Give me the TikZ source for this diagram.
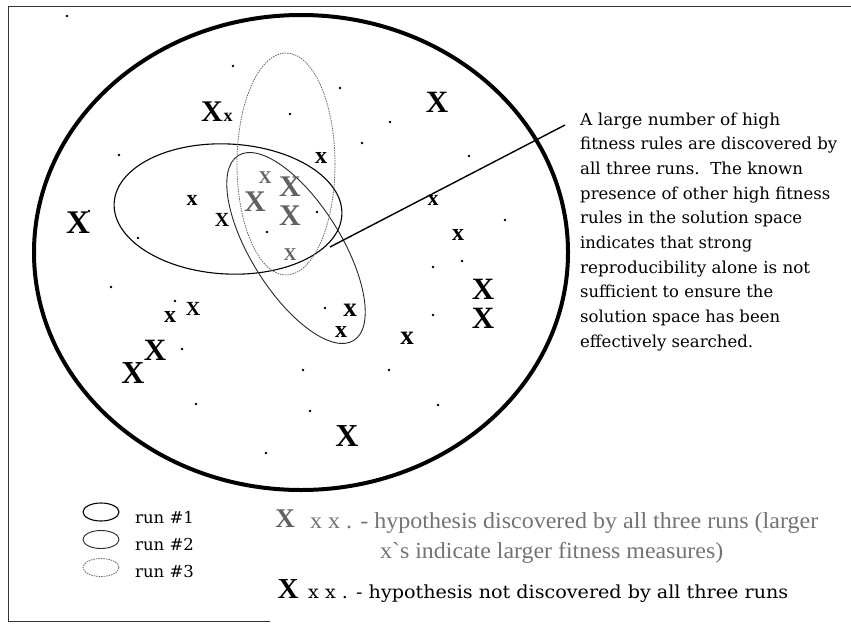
\documentclass[tikz,border=0pt]{standalone}
\usepackage{fontspec}
\usepackage{graphicx}
\setmainfont{DejaVu Serif}
\newfontfamily\timesf{Liberation Serif}
\begin{document}
\begin{tikzpicture}[x=1pt,y=-1pt,
  dot/.style={circle,fill=black,inner sep=0pt,minimum size=2.6pt},
  mk/.style={inner sep=0pt,font=\timesf\bfseries\fontsize{#1}{#1}\selectfont},
  gx/.style={mk=#1,text=black!62},
  cl/.style={inner sep=0pt,anchor=base west,font=\fontsize{16.5}{20}\selectfont},
  lg/.style={inner sep=0pt,anchor=base west,font=\fontsize{16.5}{20}\selectfont},
  lgray/.style={inner sep=0pt,anchor=base west,text=black!55,font=\timesf\fontsize{23}{26}\selectfont},
  lblack/.style={inner sep=0pt,anchor=base west,font=\fontsize{18}{22}\selectfont},
  runA/.style={line width=1.1pt,black},
  runB/.style={line width=0.9pt,black!85},
  runC/.style={line width=0.8pt,black!60,dash pattern=on 1.5pt off 1pt},
  frame/.style={line width=1pt,black!80}
]
\useasboundingbox (0,0) rectangle (851,624);
% frame
\draw[frame] (851,6) -- (8,6) -- (8,621) -- (270,621);
% solution space
\draw[line width=4pt] (301,252.5) ellipse [x radius=267, y radius=237.5];
% runs
\draw[runA, rotate around={-3:(228,209)}] (228,209) ellipse [x radius=114, y radius=65];
\draw[runB, rotate around={-58:(296,248)}] (296,248) ellipse [x radius=109, y radius=45];
\draw[runC] (286,164) ellipse [x radius=49, y radius=111];
% dots
\foreach \px/\py [count=\i] in {67/16,233/66,340/88,290/114,390/122,362/143,119/155,317/212,267/232,138/238,89/211,111/287,175/301,325/308,182/349,196/404,303/370,389/370,310/411,266/453,469/156,505/220,462/261,433/267,433/315,438/405}
  \node[dot] (d\i) at (\px,\py) {};
% hypotheses not discovered by all three runs
\node[mk=30] (b1) at (212,112) {X};
\node[mk=18] (s1) at (228,117) {x};
\node[mk=33] (b2) at (78,223) {X};
\node[mk=31] (b3) at (437,102) {X};
\node[mk=31] (b4) at (483,289) {X};
\node[mk=31] (b5) at (483,318) {X};
\node[mk=31] (b6) at (155,350) {X};
\node[mk=32] (b7) at (133,373) {X};
\node[mk=32] (b8) at (347,436) {X};
\node[mk=20] (m1) at (193,309) {X};
\node[mk=24] (s2) at (170,317) {x};
\node[mk=24] (s3) at (321,158) {x};
\node[mk=22] (s4) at (192,200) {x};
\node[mk=20] (m2) at (222,220) {X};
\node[mk=24] (s5) at (458,235) {x};
\node[mk=27] (s6) at (407,338) {x};
\node[mk=24] (s7) at (341,332) {x};
\node[mk=27] (s8) at (350,310) {x};
\node[mk=22] (s9) at (433,200) {x};
% hypotheses discovered by all three runs
\node[gx=30] (g1) at (255,202) {X};
\node[gx=30] (g2) at (290,187) {X};
\node[gx=30] (g3) at (290,216) {X};
\node[gx=18] (g4) at (265,178) {X};
\node[gx=18] (g5) at (290,255) {X};
% callout
\coordinate (lfar) at (565,125);
\coordinate (lnear) at (330,247);
\draw[line width=1.4pt] (lfar) -- (lnear);
\node[cl] (c1) at (580,125.0) {\resizebox{200pt}{\height}{A large number of high}};
\node[cl] (c2) at (580,149.7) {\resizebox{257pt}{\height}{fitness rules are discovered by}};
\node[cl] (c3) at (580,174.4) {\resizebox{223pt}{\height}{all three runs.\ \ The known}};
\node[cl] (c4) at (580,199.1) {\resizebox{250pt}{\height}{presence of other high fitness}};
\node[cl] (c5) at (580,223.8) {\resizebox{222pt}{\height}{rules in the solution space}};
\node[cl] (c6) at (580,248.5) {\resizebox{172pt}{\height}{indicates that strong}};
\node[cl] (c7) at (580,273.2) {\resizebox{230pt}{\height}{reproducibility alone is not}};
\node[cl] (c8) at (580,297.9) {\resizebox{193pt}{\height}{sufficient to ensure the}};
\node[cl] (c9) at (580,322.6) {\resizebox{200pt}{\height}{solution space has been}};
\node[cl] (c10) at (580,347.3) {\resizebox{173pt}{\height}{effectively searched.}};
% legend: runs
\draw[runA] (101,512) ellipse [x radius=18, y radius=9];
\draw[runB] (101,539.5) ellipse [x radius=18, y radius=9];
\draw[runC] (101,567.5) ellipse [x radius=18, y radius=9];
\node[lg] (r1) at (135,523) {run \#1};
\node[lg] (r2) at (135,550) {run \#2};
\node[lg] (r3) at (135,577) {run \#3};
% legend: marks
\node[gx=27] (lx1) at (285,519) {X};
\node[lgray] (t1) at (310,528) {\resizebox{508pt}{\height}{x x . - hypothesis discovered by all three runs (larger}};
\node[lgray] (t2) at (380,558) {\resizebox{343pt}{\height}{x`s indicate larger fitness measures)}};
\node[mk=29] (lx2) at (288,589) {X};
\node[lblack] (t3) at (308,598) {\resizebox{480pt}{\height}{x x . - hypothesis not discovered by all three runs}};
\end{tikzpicture}
\end{document}
